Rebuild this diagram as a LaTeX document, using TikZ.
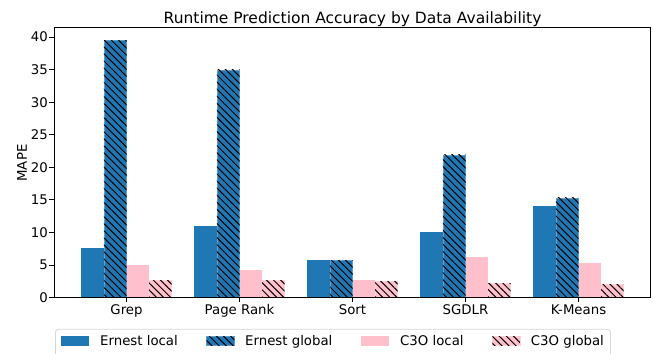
\documentclass[tikz,border=0pt]{standalone}
\usepackage{fontspec}
\setmainfont{DejaVu Sans}
\usetikzlibrary{patterns.meta}
\definecolor{ernestblue}{RGB}{31,119,180}
\definecolor{cthreepink}{RGB}{255,192,203}
\definecolor{legendgray}{RGB}{214,214,214}

\begin{document}
\begin{tikzpicture}[x=113pt,y=6.517pt,
    local bar/.style={fill=#1,draw=none},
    global bar/.style={fill=#1,draw=#1!70!white,line width=.6pt,
      postaction={pattern={Lines[angle=-45,distance=5pt,line width=1pt]},pattern color=black}},
    tick label/.style={inner sep=0pt,font=\fontsize{13.3}{16}\selectfont},
    title label/.style={inner sep=0pt,font=\fontsize{15.5}{18}\selectfont}]
\useasboundingbox (-1.1195,-8.486) rectangle (4.659,45.68);
\clip (-1.1195,-8.486) rectangle (4.659,45.68);

% bars: Ernest local, Ernest global, C3O local, C3O global
\draw[local bar=ernestblue] (-0.4,0) rectangle (-0.2,7.63);
\draw[global bar=ernestblue] (-0.2,0) rectangle (0,39.5);
\draw[local bar=cthreepink] (0,0) rectangle (0.2,5.02);
\draw[global bar=cthreepink] (0.2,0) rectangle (0.4,2.67);

\draw[local bar=ernestblue] (0.6,0) rectangle (0.8,11.0);
\draw[global bar=ernestblue] (0.8,0) rectangle (1,34.94);
\draw[local bar=cthreepink] (1,0) rectangle (1.2,4.25);
\draw[global bar=cthreepink] (1.2,0) rectangle (1.4,2.67);

\draw[local bar=ernestblue] (1.6,0) rectangle (1.8,5.78);
\draw[global bar=ernestblue] (1.8,0) rectangle (2,5.75);
\draw[local bar=cthreepink] (2,0) rectangle (2.2,2.72);
\draw[global bar=cthreepink] (2.2,0) rectangle (2.4,2.56);

\draw[local bar=ernestblue] (2.6,0) rectangle (2.8,10.08);
\draw[global bar=ernestblue] (2.8,0) rectangle (3,21.9);
\draw[local bar=cthreepink] (3,0) rectangle (3.2,6.25);
\draw[global bar=cthreepink] (3.2,0) rectangle (3.4,2.2);

\draw[local bar=ernestblue] (3.6,0) rectangle (3.8,14.1);
\draw[global bar=ernestblue] (3.8,0) rectangle (4,15.3);
\draw[local bar=cthreepink] (4,0) rectangle (4.2,5.32);
\draw[global bar=cthreepink] (4.2,0) rectangle (4.4,2.1);

% frame and ticks
\draw[line width=1pt] (-0.64,0) rectangle (4.64,41.4);
\draw[line width=.9pt] (-0.64,0) -- ++(-0.05,0) (-0.64,5) -- ++(-0.05,0) (-0.64,10) -- ++(-0.05,0)
  (-0.64,15) -- ++(-0.05,0) (-0.64,20) -- ++(-0.05,0) (-0.64,25) -- ++(-0.05,0)
  (-0.64,30) -- ++(-0.05,0) (-0.64,35) -- ++(-0.05,0) (-0.64,40) -- ++(-0.05,0);
\draw[line width=.9pt] (0,0) -- ++(0,-0.6) (1,0) -- ++(0,-0.6) (2,0) -- ++(0,-0.6)
  (3,0) -- ++(0,-0.6) (4,0) -- ++(0,-0.6);

\node[tick label,anchor=east] (y0) at (-0.695,0) {0};
\node[tick label,anchor=east] (y5) at (-0.695,5) {5};
\node[tick label,anchor=east] (y10) at (-0.695,10) {10};
\node[tick label,anchor=east] (y15) at (-0.695,15) {15};
\node[tick label,anchor=east] (y20) at (-0.695,20) {20};
\node[tick label,anchor=east] (y25) at (-0.695,25) {25};
\node[tick label,anchor=east] (y30) at (-0.695,30) {30};
\node[tick label,anchor=east] (y35) at (-0.695,35) {35};
\node[tick label,anchor=east] (y40) at (-0.695,40) {40};

\node[tick label,anchor=base] (grep) at (0,-2.578) {Grep};
\node[tick label,anchor=base] (pagerank) at (1,-2.578) {Page Rank};
\node[tick label,anchor=base] (sort) at (2,-2.578) {Sort};
\node[tick label,anchor=base] (sgdlr) at (3,-2.578) {SGDLR};
\node[tick label,anchor=base] (kmeans) at (4,-2.578) {K-Means};

\node[tick label,rotate=90] (ylabel) at (-0.925,20.67) {MAPE};
\node[title label,anchor=base] (title) at (2,42.1) {Runtime Prediction Accuracy by Data Availability};

% legend
\draw[legendgray,line width=.8pt,rounded corners=3pt,fill=white] (-0.628,-4.85) rectangle (4.283,-11);
\draw[local bar=ernestblue] (-0.5796,-5.877) rectangle (-0.3345,-7.365);
\draw[global bar=ernestblue] (0.7097,-5.877) rectangle (0.954,-7.365);
\draw[local bar=cthreepink] (2.075,-5.877) rectangle (2.323,-7.365);
\draw[global bar=cthreepink] (3.237,-5.877) rectangle (3.482,-7.365);
\node[tick label,anchor=base west] (ernestlocal) at (-0.2345,-7.365) {Ernest local};
\node[tick label,anchor=base west] (ernestglobal) at (1.0487,-7.365) {Ernest global};
\node[tick label,anchor=base west] (cthreelocal) at (2.42,-7.365) {C3O local};
\node[tick label,anchor=base west] (cthreeglobal) at (3.577,-7.365) {C3O global};

\end{tikzpicture}
\end{document}
